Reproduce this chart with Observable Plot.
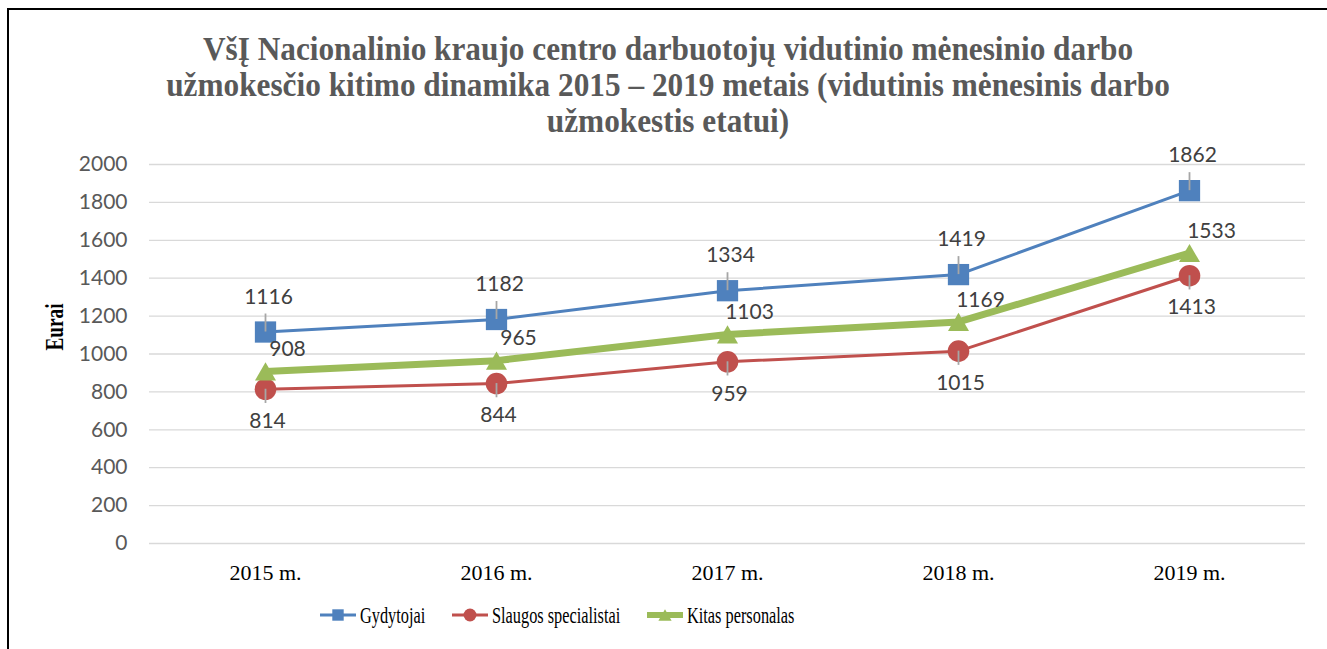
<!DOCTYPE html>
<html><head><meta charset="utf-8">
<script src="https://cdn.jsdelivr.net/npm/d3@7"></script>
<script src="https://cdn.jsdelivr.net/npm/@observablehq/plot@0.6"></script>
<style>
body{margin:0;background:#fff;}
#wrap{position:relative;width:1327px;height:649px;overflow:hidden;background:#fff;}
#frame{position:absolute;left:7px;top:8px;width:1400px;height:700px;border-top:2.5px solid #000;border-left:2.5px solid #000;pointer-events:none;}
#title{position:absolute;left:0;top:31px;width:1336px;text-align:center;font-family:"Liberation Serif";font-weight:bold;font-size:34px;color:#595959;}
#title div{line-height:36px;height:36px;transform:scaleX(0.92);white-space:nowrap;}
#chart{position:absolute;left:0;top:145px;}
#ylab{position:absolute;left:55px;top:327px;transform:translate(-50%,-50%) rotate(-90deg) scaleX(0.74);font:bold 26px "Liberation Serif";color:#000;white-space:nowrap;}
.item{position:absolute;top:601px;display:flex;align-items:center;height:28px;}
.item span{font:24px "Liberation Serif";color:#000;display:inline-block;transform:scaleX(0.68);transform-origin:left center;white-space:nowrap;margin-left:4px;}
</style>
</head><body>
<div id="wrap">
  <div id="title">
    <div>VšĮ Nacionalinio kraujo centro darbuotojų vidutinio mėnesinio darbo</div>
    <div>užmokesčio kitimo dinamika 2015 – 2019 metais (vidutinis mėnesinis darbo</div>
    <div>užmokestis etatui)</div>
  </div>
  <div id="chart"></div>
  <div id="ylab">Eurai</div>
  <div id="legend"></div>
  <div id="frame"></div>
</div>
<script>
const years = ["2015 m.", "2016 m.", "2017 m.", "2018 m.", "2019 m."];
const seriesNames = ["Gydytojai", "Slaugos specialistai", "Kitas personalas"];
const gydytojai = [1116, 1182, 1334, 1419, 1862];
const slaugos = [814, 844, 959, 1015, 1413];
const kitas = [908, 965, 1103, 1169, 1533];
const yTicks = [0, 200, 400, 600, 800, 1000, 1200, 1400, 1600, 1800, 2000];
const colors = ["#4F81BD", "#C0504D", "#9BBB59"];

const seriesValues = [gydytojai, slaugos, kitas];
const rows = [];
seriesNames.forEach((s, i) => years.forEach((y, j) => rows.push({year: y, series: s, value: seriesValues[i][j]})));
const of = s => rows.filter(d => d.series === s);

const triUp = {draw(ctx, size) {
  const a = Math.sqrt(size) * 1.08, h = a * Math.sqrt(3) / 2;
  ctx.moveTo(0, -h / 2); ctx.lineTo(a / 2, h / 2); ctx.lineTo(-a / 2, h / 2); ctx.closePath();
}};

const lineW = [3, 3, 7];
const syms = ["square", "circle", triUp];
const rs = [12, 10.8, 11];
const labelDx = [3, 2, 22];
const labelDy = [-35, 32, -22];

const marks = [
  Plot.gridY(yTicks, {stroke: "#D9D9D9", strokeOpacity: 1, strokeWidth: 1.3}),
  Plot.axisY(yTicks, {tickSize: 0, tickPadding: 22, fontSize: 21, fontFamily: "Lato", fill: "#595959", label: null, tickFormat: d => String(d)}),
  Plot.axisX(years, {tickSize: 0, tickPadding: 21, fontSize: 22, fontFamily: "Liberation Serif", fill: "#000", label: null})
];
seriesNames.forEach((s, i) => {
  marks.push(Plot.line(of(s), {x: "year", y: "value", stroke: colors[i], strokeWidth: lineW[i], strokeLinejoin: "round"}));
});
seriesNames.forEach((s, i) => {
  marks.push(Plot.dot(of(s), {x: "year", y: "value", symbol: () => syms[i], r: rs[i], fill: colors[i], stroke: "none"}));
});
// leader lines
marks.push(Plot.ruleX(of(seriesNames[0]), {x: "year", y1: "value", y2: d => d.value + 95, stroke: "#A6A6A6", strokeWidth: 1.8}));
marks.push(Plot.ruleX(of(seriesNames[1]), {x: "year", y1: "value", y2: d => d.value - 75, stroke: "#A6A6A6", strokeWidth: 1.8}));
seriesNames.forEach((s, i) => {
  marks.push(Plot.text(of(s), {x: "year", y: "value", text: d => String(d.value), dx: labelDx[i], dy: labelDy[i], fontSize: 21, fontFamily: "Lato", fill: "#404040", lineAnchor: "middle"}));
});

const chart = Plot.plot({
  width: 1327, height: 455,
  marginTop: 19, marginBottom: 57, marginLeft: 149, marginRight: 22,
  x: {type: "point", domain: years, padding: 0.5, axis: null},
  y: {domain: [0, 2000], axis: null},
  style: {fontFamily: "Lato", fontSize: "21px", background: "transparent", overflow: "visible"},
  marks
});
document.getElementById("chart").appendChild(chart);

// legend
const legendLeft = [320, 452, 647];
const legend = document.getElementById("legend");
seriesNames.forEach((s, i) => {
  const item = document.createElement("div");
  item.className = "item";
  item.style.left = legendLeft[i] + "px";
  const sw = d3.create("svg").attr("width", 36).attr("height", 20);
  sw.append("line").attr("x1", 0).attr("x2", 36).attr("y1", 10).attr("y2", 10).attr("stroke", colors[i]).attr("stroke-width", i === 2 ? 6 : 3);
  const symType = i === 0 ? d3.symbolSquare : i === 1 ? d3.symbolCircle : triUp;
  sw.append("path").attr("transform", "translate(18,10)").attr("d", d3.symbol(symType, i === 2 ? 150 : 130)()).attr("fill", colors[i]);
  item.appendChild(sw.node());
  const t = document.createElement("span");
  t.textContent = s;
  item.appendChild(t);
  legend.appendChild(item);
});
</script>
</body></html>
